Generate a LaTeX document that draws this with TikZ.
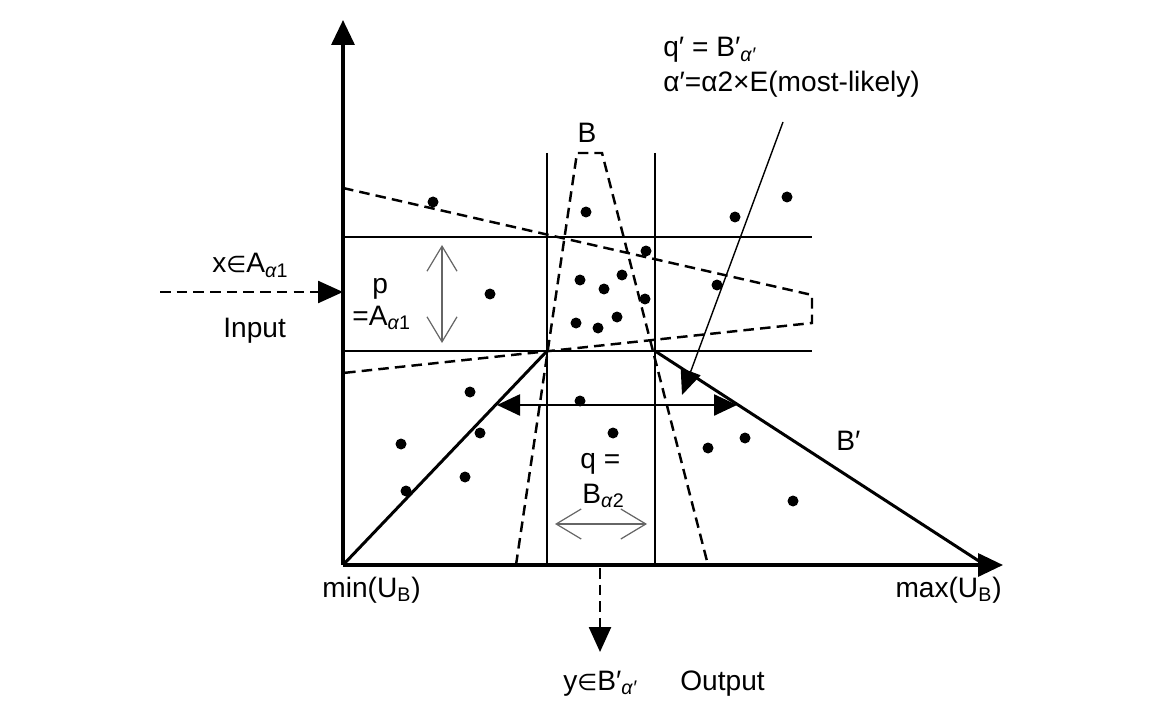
\documentclass[tikz,border=0pt]{standalone}
\usepackage{fontspec}
\setmainfont{Liberation Sans}
\newfontfamily\symfont{DejaVu Sans}
\usetikzlibrary{arrows.meta}
\newcommand{\mysub}[1]{\textsubscript{#1}}
\newcommand{\elem}{{\symfont\fontsize{13}{15}\selectfont ∈}}
\begin{document}
\begin{tikzpicture}[x=0.02cm,y=-0.02cm,
  every node/.style={inner sep=0pt,font=\fontsize{16}{19}\selectfont},
  axis/.style={line width=1.9pt,-{Triangle[length=0.5cm,width=0.46cm]}},
  gridline/.style={line width=0.85pt},
  dashline/.style={line width=1.4pt,dash pattern=on 6pt off 3.5pt},
  bline/.style={line width=1.7pt},
  dot/.style={circle,fill,inner sep=0pt,minimum size=0.22cm},
  barb/.style={line width=0.7pt,draw=black!60,{Straight Barb[length=0.5cm,width=0.6cm]}-{Straight Barb[length=0.5cm,width=0.6cm]}},
  fatdouble/.style={line width=1.4pt,{Triangle[length=0.46cm,width=0.42cm]}-{Triangle[length=0.46cm,width=0.42cm]}},
  pointer/.style={line width=0.8pt,-{Triangle[length=0.5cm,width=0.42cm]}},
  dasharrow/.style={dashline,-{Triangle[length=0.5cm,width=0.44cm]}}
]
\useasboundingbox (0,0) rectangle (1151,702);

% key points
\coordinate (O) at (343,565);
\coordinate (Ytop) at (343,20);
\coordinate (Xend) at (1003,565);
\coordinate (L1) at (547,351);
\coordinate (R1) at (655,351);
\coordinate (Rend) at (985,565);
\coordinate (H1a) at (343,237);
\coordinate (H1b) at (812,237);
\coordinate (H2a) at (343,351);
\coordinate (H2b) at (812,351);
\coordinate (V1a) at (547,153);
\coordinate (V1b) at (547,565);
\coordinate (V2a) at (655,153);
\coordinate (V2b) at (655,565);

% grid lines
\draw[gridline] (H1a) -- (H1b);
\draw[gridline] (H2a) -- (H2b);
\draw[gridline] (V1a) -- (V1b);
\draw[gridline] (V2a) -- (V2b);

% dashed fuzzy set B
\coordinate (Bbl) at (516,565);
\coordinate (Btl) at (577,153);
\coordinate (Btr) at (602,153);
\coordinate (Bbr) at (708,565);
\draw[dashline] (Bbl) -- (Btl) -- (Btr) -- (Bbr);

% dashed fuzzy set A
\coordinate (Atl) at (343,188);
\coordinate (Atr) at (812,295);
\coordinate (Abr) at (812,323);
\coordinate (Abl) at (343,373);
\draw[dashline] (Atl) -- (Atr) -- (Abr) -- (Abl);

% B' trapezoid sides
\draw[bline] (O) -- (L1);
\draw[bline] (R1) -- (Rend);

% axes
\draw[axis] (O) -- (Ytop);
\draw[axis] (O) -- (Xend);

% dots
\foreach \p in {(433,202),(586,212),(735,217),(787,197),(646,251),(580,280),(622,275),(604,289),(490,294),(645,299),(717,285),(576,323),(598,328),(617,317),(470,392),(580,401),(480,433),(613,433),(401,444),(708,448),(745,438),(465,477),(406,491),(793,501)}
  \node[dot] at \p {};

% thick double arrow q'
\coordinate (QL) at (497,405);
\coordinate (QR) at (737,405);
\draw[fatdouble] (QL) -- (QR);

% thin open double arrows
\coordinate (PT) at (442,245);
\coordinate (PB) at (442,343);
\draw[barb] (PT) -- (PB);
\coordinate (BL) at (555,524);
\coordinate (BR) at (647,524);
\draw[barb] (BL) -- (BR);

% input arrow
\coordinate (InS) at (160,292);
\coordinate (InE) at (343,292);
\draw[dasharrow] (InS) -- (InE);

% output arrow
\coordinate (OutS) at (600,568);
\coordinate (OutE) at (600,652);
\draw[dasharrow] (OutS) -- (OutE);

% annotation pointer
\coordinate (AnS) at (783,122);
\coordinate (AnE) at (682,395);
\draw[pointer] (AnS) -- (AnE);

% labels
\node[anchor=base west] (t1) at (663,57) {q′ = B′\mysub{\textit{α′}}};
\node[anchor=base west] (t2) at (663,92) {α′=α2×E(most-likely)};
\node[anchor=base] (tB) at (587,143) {B};
\node[anchor=base west] (tBp) at (836,450) {B′};
\node[anchor=base west] (tx) at (212,273) {x\elem A\mysub{\textit{α}1}};
\node[anchor=base west] (tin) at (223,337) {Input};
\node[anchor=base west] (tp) at (372,293) {p};
\node[anchor=base west] (tpA) at (352,325) {=A\mysub{\textit{α}1}};
\node[anchor=base west] (tq) at (580,468) {q =};
\node[anchor=base west] (tqB) at (582,503) {B\mysub{\textit{α}2}};
\node[anchor=base west] (tmin) at (322,597) {min(U\mysub{B})};
\node[anchor=base east] (tmax) at (1002,597) {max(U\mysub{B})};
\node[anchor=base west] (ty) at (563,690) {y\elem B′\mysub{\textit{α′}}};
\node[anchor=base west] (tout) at (680,690) {Output};
\end{tikzpicture}
\end{document}
